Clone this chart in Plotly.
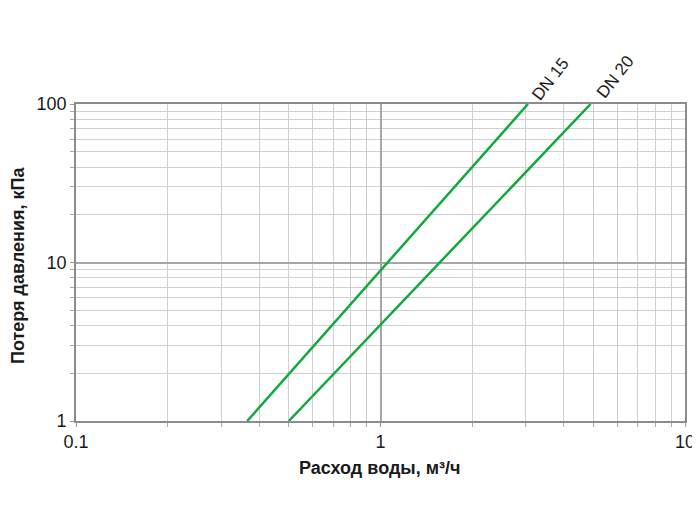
import plotly.graph_objects as go
import math

# Data (flow m3/h, pressure loss kPa)
dn15_flow = [0.365, 3.05]
dn15_dp = [1, 100]
dn20_flow = [0.50, 4.9]
dn20_dp = [1, 100]

x_major = [0.1, 1, 10]
x_major_text = ["0.1", "1", "10"]
x_minor = [0.2, 0.3, 0.4, 0.5, 0.6, 0.7, 0.8, 0.9, 2, 3, 4, 5, 6, 7, 8, 9]
y_major = [1, 10, 100]
y_major_text = ["1", "10", "100"]
y_minor = [2, 3, 4, 5, 6, 7, 8, 9, 20, 30, 40, 50, 60, 70, 80, 90]

GREEN = "#12a83e"
TXT = "#1a1a1a"
font_family = "Liberation Sans, Arial, sans-serif"

fig = go.Figure()
fig.add_trace(go.Scatter(x=dn15_flow, y=dn15_dp, mode="lines",
                         line=dict(color=GREEN, width=2.5), name="DN 15"))
fig.add_trace(go.Scatter(x=dn20_flow, y=dn20_dp, mode="lines",
                         line=dict(color=GREEN, width=2.5), name="DN 20"))

axis_common = dict(
    type="log",
    showgrid=True, gridcolor="#a6a6a6", gridwidth=1.6,
    ticks="outside", ticklen=4, tickcolor="#999",
    showline=True, linecolor="#8c8c8c", linewidth=1.6, mirror=True,
    tickfont=dict(size=18, color=TXT),
    zeroline=False, automargin=False,
)

# the page body adds an 8px offset, margins compensate for it
fig.update_layout(
    width=700, height=525,
    paper_bgcolor="white", plot_bgcolor="white",
    showlegend=False,
    margin=dict(l=68, r=23, t=96, b=112),
    font=dict(family=font_family, size=16, color=TXT),
    xaxis=dict(range=[-1, 1], tickvals=x_major, ticktext=x_major_text,
               minor=dict(tickvals=x_minor, showgrid=True, gridcolor="#d0d0d0",
                          gridwidth=1, ticks="outside", ticklen=4, tickcolor="#aaa"),
               **axis_common),
    yaxis=dict(range=[0, 2], tickvals=y_major, ticktext=y_major_text,
               minor=dict(tickvals=y_minor, showgrid=True, gridcolor="#d0d0d0",
                          gridwidth=1, ticks="outside", ticklen=4, tickcolor="#aaa"),
               **axis_common),
)

# axis titles
fig.add_annotation(xref="paper", yref="paper", x=0.499, y=-0.148,
                   text="<b>Расход воды, м³/ч</b>", showarrow=False,
                   xanchor="center", yanchor="middle",
                   font=dict(size=18, color=TXT))
fig.add_annotation(xref="paper", yref="paper", x=-0.0952, y=0.489,
                   text="<b>Потеря давления, кПа</b>", showarrow=False,
                   textangle=-90, xanchor="center", yanchor="middle",
                   font=dict(size=18, color=TXT))

# line labels
fig.add_annotation(x=math.log10(dn15_flow[-1]), y=math.log10(dn15_dp[-1]),
                   xref="x", yref="y", text="DN 15", showarrow=False,
                   textangle=-52, xanchor="center", yanchor="middle",
                   xshift=22, yshift=25, font=dict(size=17, color=TXT))
fig.add_annotation(x=math.log10(dn20_flow[-1]), y=math.log10(dn20_dp[-1]),
                   xref="x", yref="y", text="DN 20", showarrow=False,
                   textangle=-52, xanchor="center", yanchor="middle",
                   xshift=24, yshift=27, font=dict(size=17, color=TXT))

fig.write_html("out.html")
